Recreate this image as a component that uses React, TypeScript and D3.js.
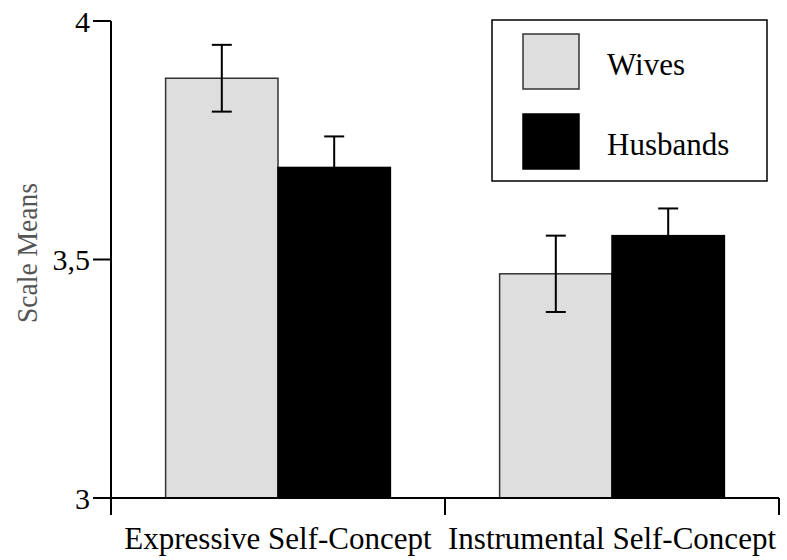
import React from "react";
import * as d3 from "d3";

const categories = ["Expressive Self-Concept", "Instrumental Self-Concept"];
const seriesNames = ["Wives", "Husbands"];
const wivesMeans = [3.88, 3.47];
const wivesErrors = [0.07, 0.08];
const husbandsMeans = [3.693, 3.55];
const husbandsErrors = [0.065, 0.057];
const yTicks = [3, 3.5, 4];
const yTickLabels = ["3", "3,5", "4"];

const width = 787;
const height = 560;
const margin = { top: 21, left: 111, bottom: 62, right: 8 };
const fills = ["#dedede", "#000000"];
const font = "'Liberation Serif', 'Times New Roman', serif";

const series = [
  { name: seriesNames[0], means: wivesMeans, errors: wivesErrors },
  { name: seriesNames[1], means: husbandsMeans, errors: husbandsErrors },
];

export default function App() {
  const x0 = d3
    .scaleBand<string>()
    .domain(categories)
    .range([margin.left, width - margin.right])
    .paddingInner(0.327)
    .paddingOuter(0.1635);

  const x1 = d3
    .scaleBand<string>()
    .domain(seriesNames)
    .range([0, x0.bandwidth()]);

  const y = d3
    .scaleLinear()
    .domain([3, 4])
    .range([height - margin.bottom, margin.top]);

  const step = x0.step();
  const gap = (step - x0.bandwidth()) / 2;
  const xTicks = categories.map((c) => (x0(c) as number) - gap);
  xTicks.push(width - margin.right);

  const base = y(3);

  return (
    <div style={{ position: "absolute", left: 0, top: 0 }}>
      <svg width={width} height={height} style={{ display: "block", background: "#fff" }}>
        {/* bars */}
        {series.map((s, si) =>
          categories.map((c, ci) => {
            const bx = (x0(c) as number) + (x1(s.name) as number);
            const top = y(s.means[ci]);
            return (
              <rect
                key={`b-${si}-${ci}`}
                x={bx}
                y={top}
                width={x1.bandwidth()}
                height={base - top}
                fill={fills[si]}
                stroke={si === 0 ? "#333" : "#000"}
                strokeWidth={1.5}
              />
            );
          })
        )}

        {/* error bars */}
        {series.map((s, si) =>
          categories.map((c, ci) => {
            const cx = (x0(c) as number) + (x1(s.name) as number) + x1.bandwidth() / 2;
            const hi = y(s.means[ci] + s.errors[ci]);
            const lo = y(s.means[ci] - s.errors[ci]);
            return (
              <g key={`e-${si}-${ci}`} stroke="#000" strokeWidth={2}>
                <line x1={cx} x2={cx} y1={hi} y2={lo} />
                <line x1={cx - 10} x2={cx + 10} y1={hi} y2={hi} />
                <line x1={cx - 10} x2={cx + 10} y1={lo} y2={lo} />
              </g>
            );
          })
        )}

        {/* y axis */}
        <line x1={margin.left} x2={margin.left} y1={y(4)} y2={base + 17} stroke="#000" strokeWidth={2} />
        {yTicks.map((t, i) => (
          <g key={`yt-${i}`}>
            <line x1={margin.left - 18} x2={margin.left} y1={y(t)} y2={y(t)} stroke="#000" strokeWidth={2} />
            <text
              x={margin.left - 21}
              y={y(t)}
              dy="0.35em"
              textAnchor="end"
              fontFamily={font}
              fontSize={30}
              fill="#000"
            >
              {yTickLabels[i]}
            </text>
          </g>
        ))}

        {/* x axis */}
        <line x1={margin.left} x2={width - margin.right} y1={base} y2={base} stroke="#000" strokeWidth={2} />
        {xTicks.map((t, i) => (
          <line key={`xt-${i}`} x1={t} x2={t} y1={base} y2={base + 17} stroke="#000" strokeWidth={2} />
        ))}
        {categories.map((c) => (
          <text
            key={`xl-${c}`}
            x={(x0(c) as number) + x0.bandwidth() / 2}
            y={549}
            textAnchor="middle"
            fontFamily={font}
            fontSize={31}
            fill="#000"
          >
            {c}
          </text>
        ))}

        {/* y title */}
        <text
          transform={`translate(37, 253) rotate(-90)`}
          textAnchor="middle"
          fontFamily={font}
          fontSize={29}
          fill="#555"
          textLength={140}
          lengthAdjust="spacingAndGlyphs"
        >
          Scale Means
        </text>

        {/* legend */}
        <rect x={492} y={20} width={275} height={161} fill="#fff" stroke="#000" strokeWidth={1.5} />
        {seriesNames.map((n, i) => (
          <g key={`lg-${n}`} transform={`translate(523, ${34 + i * 80})`}>
            <rect width={56} height={55} fill={fills[i]} stroke={i === 0 ? "#333" : "#000"} strokeWidth={1.5} />
            <text x={84} y={41} fontFamily={font} fontSize={31} fill="#000">
              {n}
            </text>
          </g>
        ))}
      </svg>
    </div>
  );
}
